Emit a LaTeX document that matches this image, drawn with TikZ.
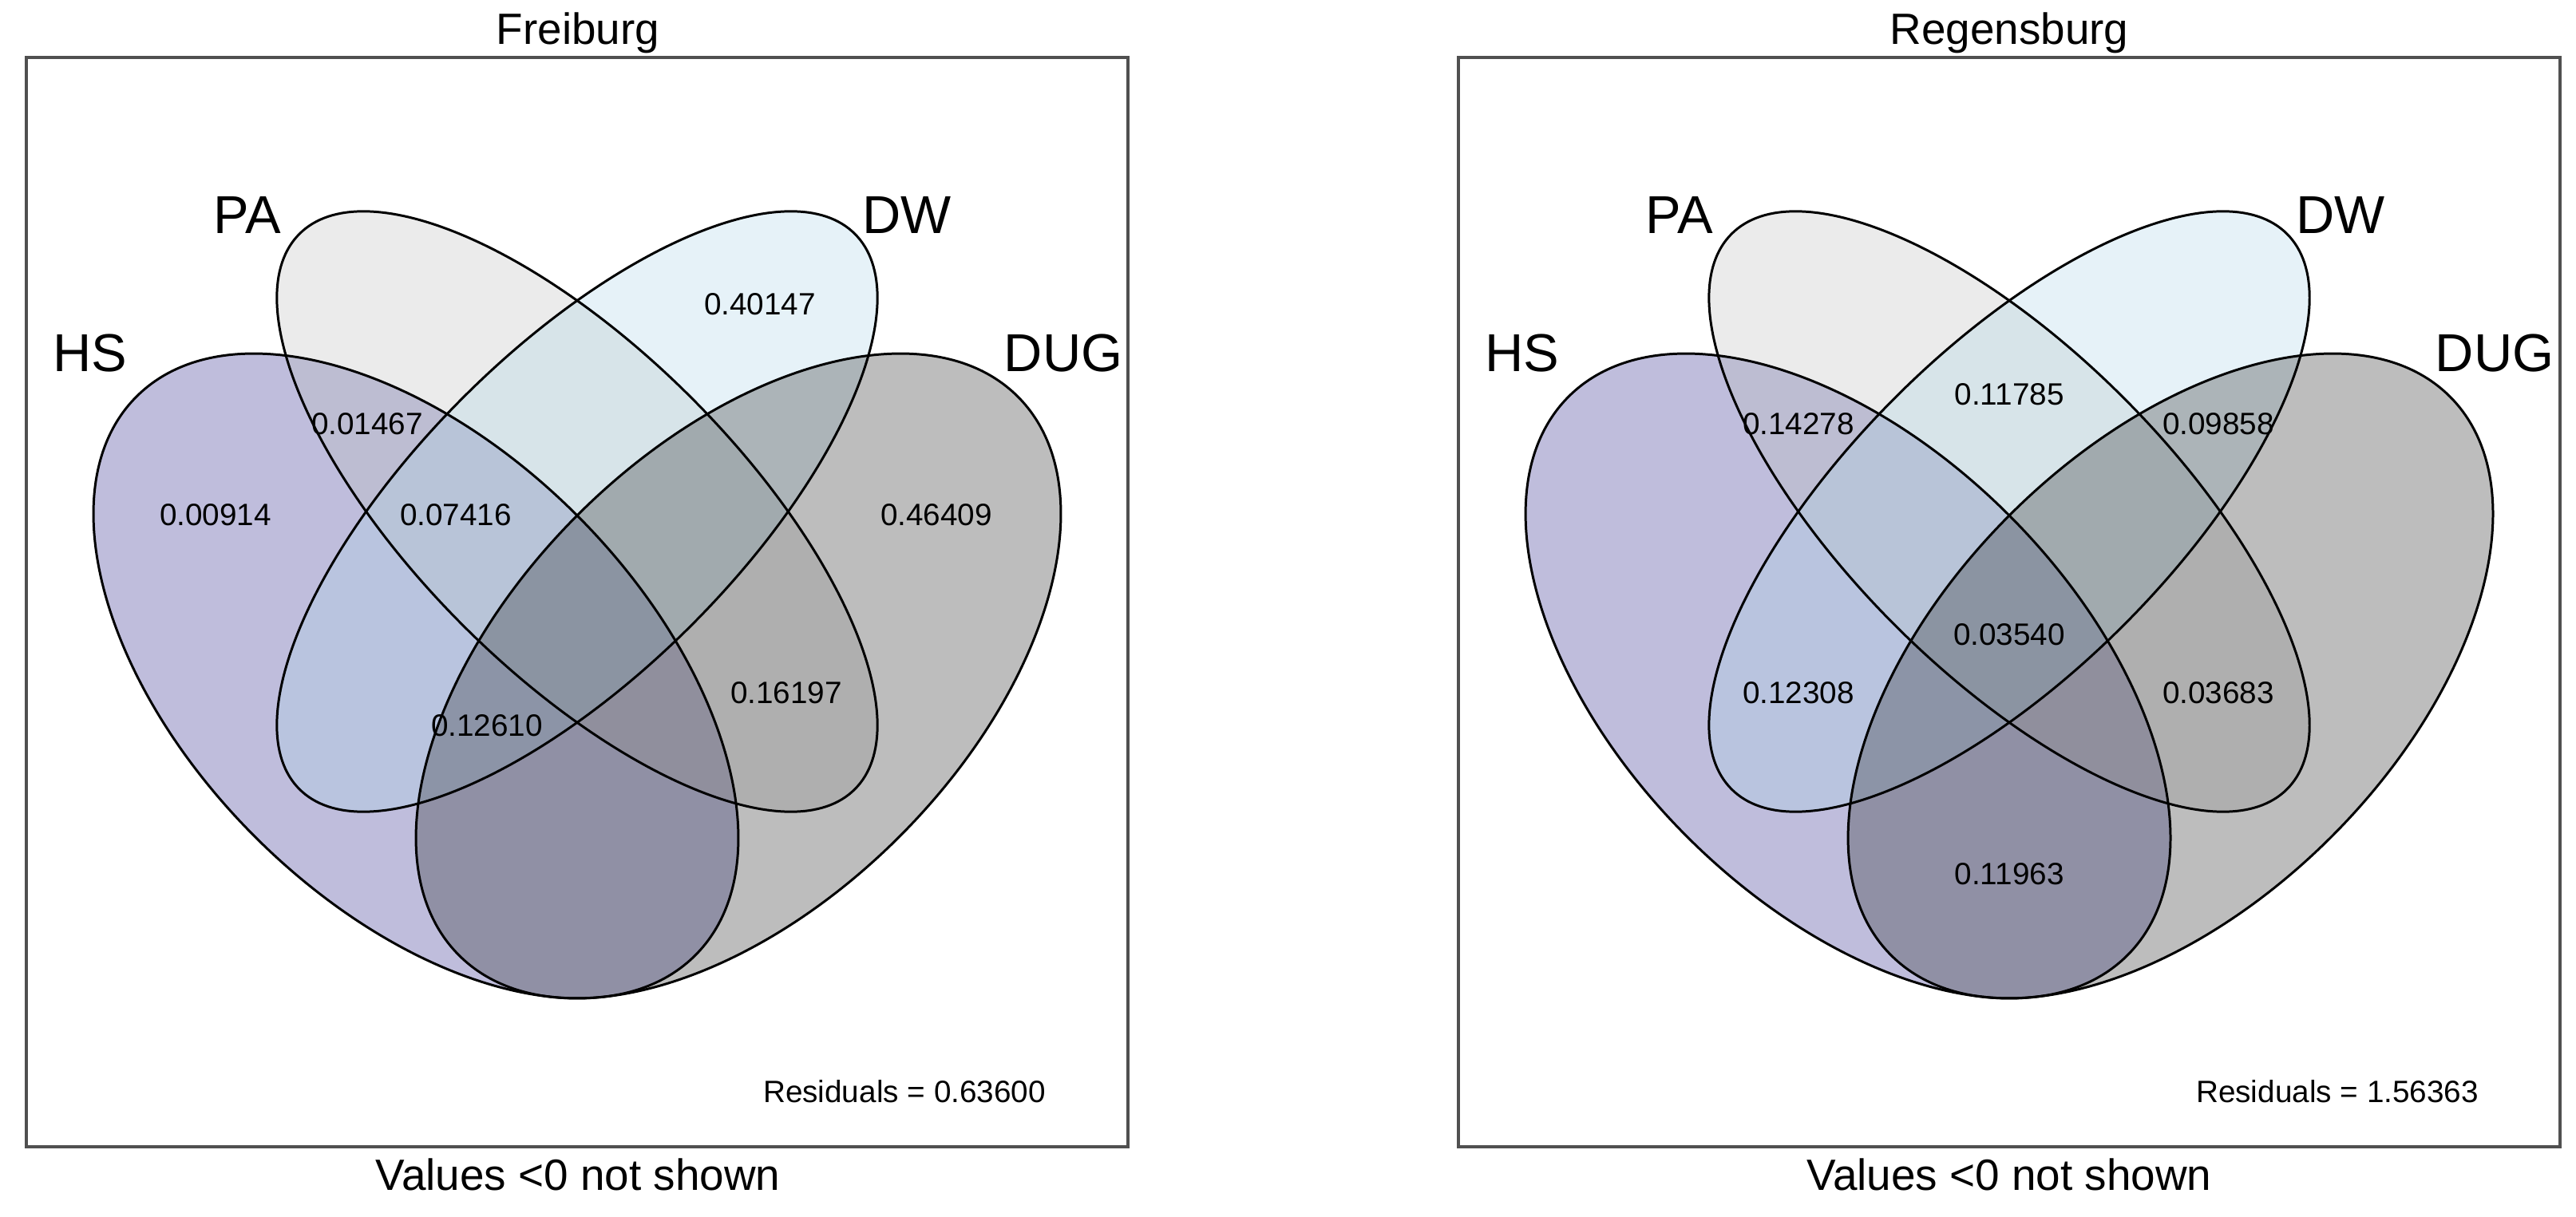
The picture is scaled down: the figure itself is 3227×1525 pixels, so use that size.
\documentclass[tikz,border=0pt]{standalone}
\usepackage{fontspec}
\setmainfont{Liberation Sans}
\usepackage{tikz}
\usetikzlibrary{positioning}
\definecolor{hsblue}{RGB}{42, 38, 138}
\definecolor{pagray}{RGB}{188, 188, 188}
\definecolor{dwblue}{RGB}{172, 212, 232}
\definecolor{duggray}{RGB}{38, 38, 38}
\definecolor{framegray}{RGB}{80, 80, 80}

\begin{document}
\begin{tikzpicture}[
    x=0.01cm, y=-0.01cm,
    title/.style={font=\fontsize{15.6}{18}\selectfont, inner sep=0pt},
    setlabel/.style={font=\fontsize{19}{22}\selectfont, inner sep=0pt},
    value/.style={font=\fontsize{11}{13}\selectfont, inner sep=0pt},
    panel/.style={draw=framegray, line width=1.1pt},
    outline/.style={draw=black, line width=0.85pt},
    hsset/.style={fill=hsblue, fill opacity=0.3},
    paset/.style={fill=pagray, fill opacity=0.3},
    dwset/.style={fill=dwblue, fill opacity=0.3},
    dugset/.style={fill=duggray, fill opacity=0.3}
]
\useasboundingbox (0,0) rectangle (3227,1525);

% Freiburg
\begin{scope}
\draw [panel] (33,72) rectangle (1413,1437);
\fill [hsset] (521,847) ellipse [x radius=495, y radius=285, rotate=-45];
\fill [paset] (723,641) ellipse [x radius=492, y radius=202, rotate=-45];
\fill [dwset] (723,641) ellipse [x radius=492, y radius=202, rotate=45];
\fill [dugset] (925,847) ellipse [x radius=495, y radius=285, rotate=45];
\draw [outline] (521,847) ellipse [x radius=495, y radius=285, rotate=-45];
\draw [outline] (723,641) ellipse [x radius=492, y radius=202, rotate=-45];
\draw [outline] (723,641) ellipse [x radius=492, y radius=202, rotate=45];
\draw [outline] (925,847) ellipse [x radius=495, y radius=285, rotate=45];

\node (fr_title) [title] at (724,41) {Freiburg};
\node (fr_pa) [setlabel] at (310,270) {PA};
\node (fr_dw) [setlabel] at (1136,270) {DW};
\node (fr_hs) [setlabel] at (113,443) {HS};
\node (fr_dug) [setlabel] at (1332,443) {DUG};

\node (fr_dw_only) [value] at (952,381) {0.40147};
\node (fr_hs_pa) [value] at (460,531) {0.01467};
\node (fr_hs_only) [value] at (270,645) {0.00914};
\node (fr_hs_pa_dw) [value] at (571,645) {0.07416};
\node (fr_dug_only) [value] at (1173,645) {0.46409};
\node (fr_pa_dug) [value] at (985,868) {0.16197};
\node (fr_hs_dw_dug) [value] at (610,909) {0.12610};

\node (fr_resid) [value] at (1133,1368) {Residuals = 0.63600};
\node (fr_note) [title] at (724,1472) {Values <0 not shown};
\end{scope}

% Regensburg
\begin{scope}[xshift=17.93cm]
\draw [panel] (33,72) rectangle (1413,1437);
\fill [hsset] (521,847) ellipse [x radius=495, y radius=285, rotate=-45];
\fill [paset] (723,641) ellipse [x radius=492, y radius=202, rotate=-45];
\fill [dwset] (723,641) ellipse [x radius=492, y radius=202, rotate=45];
\fill [dugset] (925,847) ellipse [x radius=495, y radius=285, rotate=45];
\draw [outline] (521,847) ellipse [x radius=495, y radius=285, rotate=-45];
\draw [outline] (723,641) ellipse [x radius=492, y radius=202, rotate=-45];
\draw [outline] (723,641) ellipse [x radius=492, y radius=202, rotate=45];
\draw [outline] (925,847) ellipse [x radius=495, y radius=285, rotate=45];

\node (rb_title) [title] at (723,41) {Regensburg};
\node (rb_pa) [setlabel] at (310,270) {PA};
\node (rb_dw) [setlabel] at (1138,270) {DW};
\node (rb_hs) [setlabel] at (113,443) {HS};
\node (rb_dug) [setlabel] at (1331,443) {DUG};

\node (rb_pa_dw) [value] at (723,494) {0.11785};
\node (rb_hs_pa) [value] at (459,531) {0.14278};
\node (rb_dw_dug) [value] at (985,531) {0.09858};
\node (rb_all) [value] at (723,795) {0.03540};
\node (rb_hs_dw) [value] at (459,868) {0.12308};
\node (rb_pa_dug) [value] at (985,868) {0.03683};
\node (rb_hs_dug) [value] at (723,1095) {0.11963};

\node (rb_resid) [value] at (1134,1368) {Residuals = 1.56363};
\node (rb_note) [title] at (723,1472) {Values <0 not shown};
\end{scope}

\end{tikzpicture}
\end{document}
